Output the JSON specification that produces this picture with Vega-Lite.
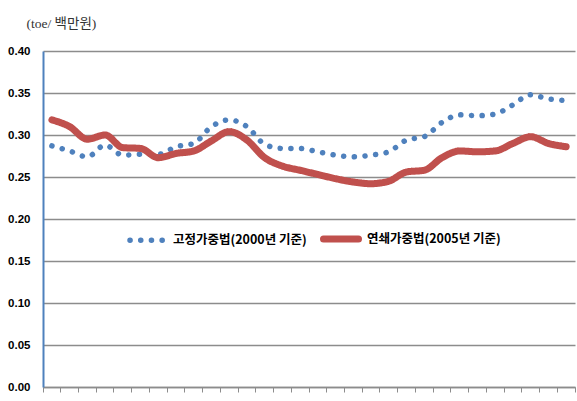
{
  "$schema": "https://vega.github.io/schema/vega-lite/v6.json",
  "width": 532,
  "height": 336,
  "autosize": {"type": "none"},
  "padding": {"left": 43, "top": 51, "right": 2, "bottom": 14},
  "background": "white",
  "config": {"view": {"stroke": null}},
  "data": {
    "values": [
      {"t": 1, "series": "고정가중법(2000년 기준)", "v": 0.287},
      {"t": 2, "series": "고정가중법(2000년 기준)", "v": 0.281},
      {"t": 3, "series": "고정가중법(2000년 기준)", "v": 0.274},
      {"t": 4, "series": "고정가중법(2000년 기준)", "v": 0.288},
      {"t": 5, "series": "고정가중법(2000년 기준)", "v": 0.276},
      {"t": 6, "series": "고정가중법(2000년 기준)", "v": 0.277},
      {"t": 7, "series": "고정가중법(2000년 기준)", "v": 0.277},
      {"t": 8, "series": "고정가중법(2000년 기준)", "v": 0.286},
      {"t": 9, "series": "고정가중법(2000년 기준)", "v": 0.290},
      {"t": 10, "series": "고정가중법(2000년 기준)", "v": 0.310},
      {"t": 11, "series": "고정가중법(2000년 기준)", "v": 0.318},
      {"t": 12, "series": "고정가중법(2000년 기준)", "v": 0.310},
      {"t": 13, "series": "고정가중법(2000년 기준)", "v": 0.289},
      {"t": 14, "series": "고정가중법(2000년 기준)", "v": 0.284},
      {"t": 15, "series": "고정가중법(2000년 기준)", "v": 0.284},
      {"t": 16, "series": "고정가중법(2000년 기준)", "v": 0.280},
      {"t": 17, "series": "고정가중법(2000년 기준)", "v": 0.276},
      {"t": 18, "series": "고정가중법(2000년 기준)", "v": 0.274},
      {"t": 19, "series": "고정가중법(2000년 기준)", "v": 0.276},
      {"t": 20, "series": "고정가중법(2000년 기준)", "v": 0.280},
      {"t": 21, "series": "고정가중법(2000년 기준)", "v": 0.294},
      {"t": 22, "series": "고정가중법(2000년 기준)", "v": 0.298},
      {"t": 23, "series": "고정가중법(2000년 기준)", "v": 0.315},
      {"t": 24, "series": "고정가중법(2000년 기준)", "v": 0.324},
      {"t": 25, "series": "고정가중법(2000년 기준)", "v": 0.323},
      {"t": 26, "series": "고정가중법(2000년 기준)", "v": 0.325},
      {"t": 27, "series": "고정가중법(2000년 기준)", "v": 0.336},
      {"t": 28, "series": "고정가중법(2000년 기준)", "v": 0.348},
      {"t": 29, "series": "고정가중법(2000년 기준)", "v": 0.343},
      {"t": 30, "series": "고정가중법(2000년 기준)", "v": 0.341},
      {"t": 1, "series": "연쇄가중법(2005년 기준)", "v": 0.318},
      {"t": 2, "series": "연쇄가중법(2005년 기준)", "v": 0.310},
      {"t": 3, "series": "연쇄가중법(2005년 기준)", "v": 0.295},
      {"t": 4, "series": "연쇄가중법(2005년 기준)", "v": 0.300},
      {"t": 5, "series": "연쇄가중법(2005년 기준)", "v": 0.285},
      {"t": 6, "series": "연쇄가중법(2005년 기준)", "v": 0.284},
      {"t": 7, "series": "연쇄가중법(2005년 기준)", "v": 0.273},
      {"t": 8, "series": "연쇄가중법(2005년 기준)", "v": 0.278},
      {"t": 9, "series": "연쇄가중법(2005년 기준)", "v": 0.281},
      {"t": 10, "series": "연쇄가중법(2005년 기준)", "v": 0.293},
      {"t": 11, "series": "연쇄가중법(2005년 기준)", "v": 0.304},
      {"t": 12, "series": "연쇄가중법(2005년 기준)", "v": 0.294},
      {"t": 13, "series": "연쇄가중법(2005년 기준)", "v": 0.273},
      {"t": 14, "series": "연쇄가중법(2005년 기준)", "v": 0.263},
      {"t": 15, "series": "연쇄가중법(2005년 기준)", "v": 0.258},
      {"t": 16, "series": "연쇄가중법(2005년 기준)", "v": 0.253},
      {"t": 17, "series": "연쇄가중법(2005년 기준)", "v": 0.248},
      {"t": 18, "series": "연쇄가중법(2005년 기준)", "v": 0.244},
      {"t": 19, "series": "연쇄가중법(2005년 기준)", "v": 0.242},
      {"t": 20, "series": "연쇄가중법(2005년 기준)", "v": 0.245},
      {"t": 21, "series": "연쇄가중법(2005년 기준)", "v": 0.256},
      {"t": 22, "series": "연쇄가중법(2005년 기준)", "v": 0.258},
      {"t": 23, "series": "연쇄가중법(2005년 기준)", "v": 0.273},
      {"t": 24, "series": "연쇄가중법(2005년 기준)", "v": 0.281},
      {"t": 25, "series": "연쇄가중법(2005년 기준)", "v": 0.280},
      {"t": 26, "series": "연쇄가중법(2005년 기준)", "v": 0.281},
      {"t": 27, "series": "연쇄가중법(2005년 기준)", "v": 0.290},
      {"t": 28, "series": "연쇄가중법(2005년 기준)", "v": 0.298},
      {"t": 29, "series": "연쇄가중법(2005년 기준)", "v": 0.290},
      {"t": 30, "series": "연쇄가중법(2005년 기준)", "v": 0.286}
    ]
  },
  "mark": {"type": "line", "interpolate": "monotone", "strokeCap": "round", "strokeJoin": "round"},
  "encoding": {
    "x": {
      "field": "t",
      "type": "ordinal",
      "scale": {"type": "band", "paddingInner": 0, "paddingOuter": 0},
      "axis": {
        "title": null,
        "labels": false,
        "bandPosition": 1,
        "tickExtra": true,
        "ticks": true,
        "tickSize": 5,
        "tickColor": "#8c8c8c",
        "tickWidth": 1,
        "domainColor": "#8c8c8c",
        "domainWidth": 1.5,
        "grid": false
      }
    },
    "y": {
      "field": "v",
      "type": "quantitative",
      "scale": {"domain": [0, 0.4], "nice": false},
      "axis": {
        "values": [0, 0.05, 0.1, 0.15, 0.2, 0.25, 0.3, 0.35, 0.4],
        "format": ".2f",
        "title": "(toe/ 백만원)",
        "titleAngle": 0,
        "titleAlign": "left",
        "titleBaseline": "middle",
        "titleX": -17,
        "titleY": -28,
        "titleFont": "'Liberation Serif', 'DejaVu Serif', 'Noto Sans CJK KR'",
        "titleFontSize": 13.5,
        "titleFontWeight": "normal",
        "titleColor": "#333333",
        "labelFont": "Liberation Sans",
        "labelFontWeight": "bold",
        "labelFontSize": 11.5,
        "labelColor": "#000000",
        "labelPadding": 13,
        "ticks": false,
        "domainColor": "#4F81BD",
        "domainWidth": 2,
        "grid": true,
        "gridColor": "#8c8c8c",
        "gridWidth": 1.5
      }
    },
    "color": {
      "field": "series",
      "type": "nominal",
      "scale": {"domain": ["고정가중법(2000년 기준)", "연쇄가중법(2005년 기준)"], "range": ["#4F81BD", "#C0504D"]},
      "legend": {
        "title": null,
        "orient": "none",
        "legendX": 84,
        "legendY": 167,
        "direction": "horizontal",
        "symbolType": "stroke",
        "symbolSize": 1225,
        "labelFont": "Noto Sans CJK KR",
        "labelFontWeight": "bold",
        "labelFontSize": 12.5,
        "labelColor": "#000000",
        "labelOffset": 5,
        "columnPadding": 2,
        "labelLimit": 300,
        "encode": {"symbols": {"update": {"strokeCap": {"value": "round"}}}}
      }
    },
    "strokeDash": {
      "field": "series",
      "type": "nominal",
      "scale": {"domain": ["고정가중법(2000년 기준)", "연쇄가중법(2005년 기준)"], "range": [[0.1, 10.6], [1, 0]]},
      "legend": {"title": null}
    },
    "strokeWidth": {
      "field": "series",
      "type": "nominal",
      "scale": {"domain": ["고정가중법(2000년 기준)", "연쇄가중법(2005년 기준)"], "range": [5.5, 7]},
      "legend": {"title": null}
    }
  }
}
